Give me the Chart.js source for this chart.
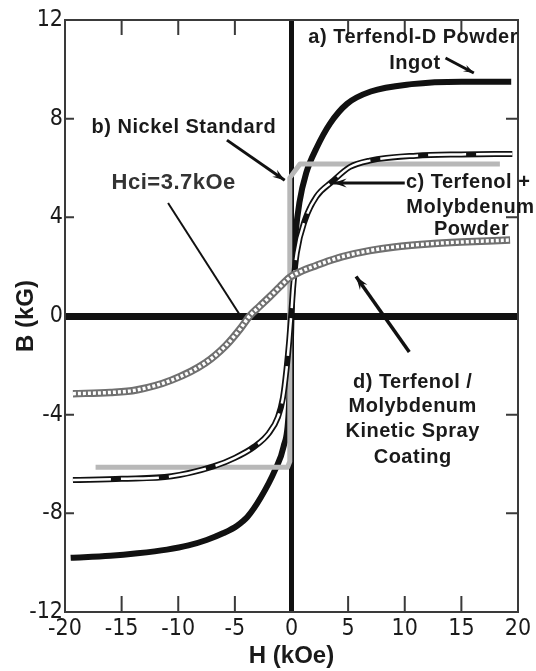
<!DOCTYPE html>
<html>
<head>
<meta charset="utf-8">
<script src="https://cdn.jsdelivr.net/npm/chart.js@4.4.1/dist/chart.umd.min.js"></script>
<style>
  html, body { margin: 0; padding: 0; background: #fff; }
</style>
</head>
<body>
<canvas id="bhChart" width="536" height="671"></canvas>
<script>
// a) Terfenol-D powder ingot
const ingotH = [-19.5, -16, -13.6, -11, -9.1, -7.5, -6.0, -4.8, -3.9, -2.7, -1.46, -0.7, -0.25, -0.08, 0.02, 0.15, 0.35, 0.7, 1.3, 2.2, 3.4, 4.9, 7.0, 10.6, 15, 19.4];
const ingotB = [-9.8, -9.72, -9.62, -9.47, -9.3, -9.08, -8.8, -8.5, -8.15, -7.35, -6.25, -5.3, -3.9, -1.6, 0.4, 1.9, 3.3, 4.6, 5.8, 6.8, 7.8, 8.6, 9.1, 9.4, 9.5, 9.5];

// b) Nickel standard
const nickelH = [-17.3, -0.35, -0.15, -0.15, 0.75, 18.4];
const nickelB = [-6.13, -6.13, -5.9, 5.6, 6.16, 6.16];

// c) Terfenol + molybdenum powder
const powderH = [-19.3, -15, -10.6, -6.9, -5, -3.3, -2.0, -1.2, -0.75, -0.45, -0.2, 0.0, 0.15, 0.46, 1.2, 2.2, 3.6, 5.15, 6.9, 11, 15, 19.5];
const powderB = [-6.65, -6.6, -6.5, -6.1, -5.75, -5.3, -4.75, -4.1, -3.3, -2.2, -1.0, 0.2, 1.2, 2.55, 3.9, 4.84, 5.45, 6.04, 6.3, 6.5, 6.55, 6.57];

// d) Terfenol / molybdenum kinetic spray coating
const sprayH = [-19.3, -16, -13.7, -10.6, -7.6, -5.8, -4.5, -3.7, -2.8, -1.95, -1.0, -0.2, 0.8, 2.2, 3.4, 4.6, 6.9, 9.1, 12, 15, 19.3];
const sprayB = [-3.15, -3.1, -3.0, -2.6, -1.9, -1.2, -0.5, 0.0, 0.4, 0.77, 1.2, 1.55, 1.8, 2.05, 2.25, 2.42, 2.65, 2.8, 2.92, 3.0, 3.08];

const hTicks = [-20, -15, -10, -5, 0, 5, 10, 15, 20];
const bTicks = [-12, -8, -4, 0, 4, 8, 12];

const pts = (hs, bs) => hs.map((h, i) => ({ x: h, y: bs[i] }));

const textFont = 'bold 20px "Liberation Sans", Arial, sans-serif';
const tickFont = '"Liberation Sans Narrow", "DejaVu Sans Condensed", "Liberation Sans", Arial, sans-serif';

// labels and arrows, placed in H / B units
const notes = [
  { text: 'a) Terfenol-D Powder', x: 20.0, y: 11.3, align: 'right' },
  { text: 'Ingot', x: 10.9, y: 10.25 },
  { text: 'b) Nickel Standard', x: -9.5, y: 7.66 },
  { text: 'Hci=3.7kOe', x: -10.4, y: 5.4, font: 'bold 22px "Liberation Sans", Arial, sans-serif', color: '#333' },
  { text: 'c) Terfenol +', x: 10.1, y: 5.43, align: 'left' },
  { text: 'Molybdenum', x: 15.8, y: 4.38 },
  { text: 'Powder', x: 15.9, y: 3.49 },
  { text: 'd) Terfenol /', x: 10.7, y: -2.68 },
  { text: 'Molybdenum', x: 10.7, y: -3.65 },
  { text: 'Kinetic Spray', x: 10.7, y: -4.7 },
  { text: 'Coating', x: 10.7, y: -5.72 }
];
const arrows = [
  { from: [13.6, 10.46], to: [16.1, 9.85], w: 3, head: 11 },
  { from: [-5.7, 7.13], to: [-0.6, 5.5], w: 3, head: 13 },
  { from: [-10.9, 4.58], to: [-4.5, 0.0], w: 2, head: 0 },
  { from: [10.0, 5.39], to: [3.7, 5.39], w: 3, head: 14 },
  { from: [10.4, -1.46], to: [5.7, 1.6], w: 3.5, head: 14 }
];

function drawArrow(ctx, x1, y1, x2, y2, head) {
  ctx.beginPath();
  ctx.moveTo(x1, y1);
  ctx.lineTo(x2, y2);
  ctx.stroke();
  if (!head) return;
  const ang = Math.atan2(y2 - y1, x2 - x1);
  ctx.beginPath();
  ctx.moveTo(x2, y2);
  ctx.lineTo(x2 - head * Math.cos(ang - 0.33), y2 - head * Math.sin(ang - 0.33));
  ctx.lineTo(x2 - head * 0.6 * Math.cos(ang), y2 - head * 0.6 * Math.sin(ang));
  ctx.lineTo(x2 - head * Math.cos(ang + 0.33), y2 - head * Math.sin(ang + 0.33));
  ctx.closePath();
  ctx.fill();
}

// box round the plot with the little inward ticks
const framePlugin = {
  id: 'frame',
  beforeDatasetsDraw(chart) {
    const { ctx, chartArea: a, scales: { x, y } } = chart;
    ctx.save();
    ctx.strokeStyle = '#3a3a3a';
    ctx.lineWidth = 2;
    ctx.strokeRect(a.left, a.top, a.right - a.left, a.bottom - a.top);
    ctx.beginPath();
    x.ticks.forEach(t => {
      if (t.value === x.min || t.value === x.max || t.value === 0) return;
      const px = x.getPixelForValue(t.value);
      ctx.moveTo(px, a.bottom); ctx.lineTo(px, a.bottom - 16);
      ctx.moveTo(px, a.top); ctx.lineTo(px, a.top + 15);
    });
    y.ticks.forEach(t => {
      if (t.value === y.min || t.value === y.max || t.value === 0) return;
      const py = y.getPixelForValue(t.value);
      ctx.moveTo(a.left, py); ctx.lineTo(a.left + 9, py);
      ctx.moveTo(a.right, py); ctx.lineTo(a.right - 12, py);
    });
    ctx.stroke();
    ctx.restore();
  },
  afterDatasetsDraw(chart) {
    const { ctx, scales: { x, y } } = chart;
    ctx.save();
    ctx.textBaseline = 'middle';
    notes.forEach(n => {
      ctx.font = n.font || textFont;
      ctx.fillStyle = n.color || '#1a1a1a';
      ctx.textAlign = n.align || 'center';
      ctx.letterSpacing = '0.5px';
      ctx.fillText(n.text, x.getPixelForValue(n.x), y.getPixelForValue(n.y));
    });
    ctx.strokeStyle = '#111';
    ctx.fillStyle = '#111';
    arrows.forEach(ar => {
      ctx.lineWidth = ar.w;
      drawArrow(ctx,
        x.getPixelForValue(ar.from[0]), y.getPixelForValue(ar.from[1]),
        x.getPixelForValue(ar.to[0]), y.getPixelForValue(ar.to[1]), ar.head);
    });
    ctx.restore();
  }
};

const zeroColor = c => (c.tick && c.tick.value === 0 ? '#111' : 'rgba(0,0,0,0)');

new Chart(document.getElementById('bhChart'), {
  type: 'scatter',
  data: {
    datasets: [
      { label: 'spray', data: pts(sprayH, sprayB), showLine: true, borderColor: '#fff', borderWidth: 3.5, borderDash: [3, 2], order: 1, cubicInterpolationMode: 'monotone' },
      { label: 'spray outline', data: pts(sprayH, sprayB), showLine: true, borderColor: '#707070', borderWidth: 7.5, order: 2, cubicInterpolationMode: 'monotone' },
      { label: 'powder', data: pts(powderH, powderB), showLine: true, borderColor: '#fff', borderWidth: 2.5, borderDash: [38, 10], order: 3, cubicInterpolationMode: 'monotone' },
      { label: 'powder outline', data: pts(powderH, powderB), showLine: true, borderColor: '#111', borderWidth: 6, order: 4, cubicInterpolationMode: 'monotone' },
      { label: 'nickel', data: pts(nickelH, nickelB), showLine: true, borderColor: '#b8b8b8', borderWidth: 5, order: 5, tension: 0 },
      { label: 'ingot', data: pts(ingotH, ingotB), showLine: true, borderColor: '#111', borderWidth: 6, order: 6, cubicInterpolationMode: 'monotone' }
    ]
  },
  options: {
    responsive: false,
    animation: false,
    elements: { point: { radius: 0 }, line: { borderCapStyle: 'butt', borderJoinStyle: 'round' } },
    layout: { padding: { top: 20, right: 18, bottom: 0, left: 0 } },
    plugins: { legend: { display: false }, tooltip: { enabled: false } },
    scales: {
      x: {
        type: 'linear', min: -20, max: 20,
        afterBuildTicks: s => { s.ticks = hTicks.map(v => ({ value: v })); },
        afterFit: s => { s.height = 59; },
        grid: { drawTicks: false, color: zeroColor, lineWidth: 5 },
        border: { display: false },
        ticks: { padding: 3, color: '#1a1a1a', font: { family: tickFont, size: 23 } },
        title: { display: true, text: 'H (kOe)', color: '#1a1a1a', padding: { top: 0, bottom: 0 }, font: { family: '"Liberation Sans", Arial, sans-serif', size: 24, weight: 'bold' } }
      },
      y: {
        type: 'linear', min: -12, max: 12,
        afterBuildTicks: s => { s.ticks = bTicks.map(v => ({ value: v })); },
        afterFit: s => { s.width = 65; },
        grid: { drawTicks: false, color: zeroColor, lineWidth: 7 },
        border: { display: false },
        ticks: { padding: 2, color: '#1a1a1a', font: { family: tickFont, size: 23 } },
        title: { display: true, text: 'B (kG)', color: '#1a1a1a', padding: { top: 12, bottom: 0 }, font: { family: '"Liberation Sans", Arial, sans-serif', size: 24, weight: 'bold' } }
      }
    }
  },
  plugins: [framePlugin]
});
</script>
</body>
</html>
